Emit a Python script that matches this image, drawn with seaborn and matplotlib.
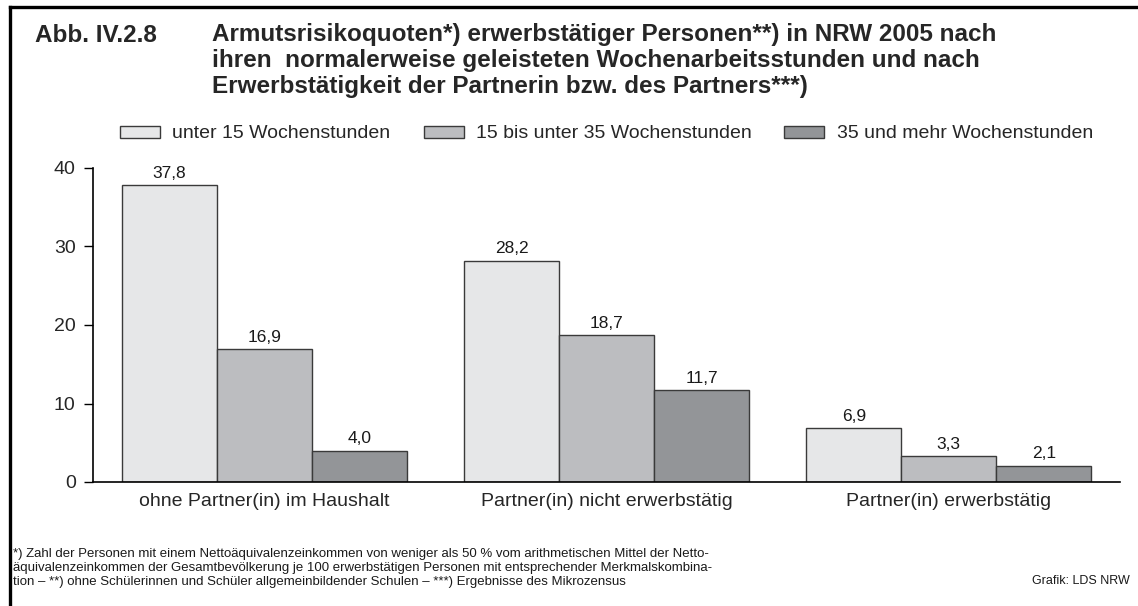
import pandas as pd
import matplotlib.pyplot as plt
import seaborn as sns
from matplotlib.lines import Line2D

# data
gruppen = ["ohne Partner(in) im Haushalt", "Partner(in) nicht erwerbstätig", "Partner(in) erwerbstätig"]
stunden = ["unter 15 Wochenstunden", "15 bis unter 35 Wochenstunden", "35 und mehr Wochenstunden"]
unter_15 = [37.8, 28.2, 6.9]
von_15_bis_35 = [16.9, 18.7, 3.3]
ab_35 = [4.0, 11.7, 2.1]
farben = ["#e6e7e8", "#bcbdc0", "#939598"]

rows = []
for serie, werte in zip(stunden, [unter_15, von_15_bis_35, ab_35]):
    for g, w in zip(gruppen, werte):
        rows.append({"gruppe": g, "stunden": serie, "quote": w})
df = pd.DataFrame(rows)

sns.set_style("ticks")
plt.rcParams['font.family'] = ['Liberation Sans', 'DejaVu Sans']

W, H = 1138, 606
fig = plt.figure(figsize=(W / 100, H / 100), dpi=100)
ax = fig.add_axes([93 / W, 1 - 482 / H, (1120 - 93) / W, (482 - 168) / H])

sns.barplot(data=df, x="gruppe", y="quote", hue="stunden", palette=farben,
            width=0.833, gap=0, saturation=1, edgecolor="#3a3a3a", linewidth=1,
            ax=ax)

for cont in ax.containers:
    ax.bar_label(cont, labels=[f"{b.get_height():.1f}".replace(".", ",") for b in cont],
                 padding=3, fontsize=12.5, color="#1a1a1a")

ax.set_xlim(-0.5, 2.5)
ax.set_ylim(0, 40)
ax.set_yticks([0, 10, 20, 30, 40])
ax.set_xlabel("")
ax.set_ylabel("")
ax.tick_params(axis="y", length=6.5, width=1, pad=6, labelsize=14, color="black")
ax.tick_params(axis="x", length=0, pad=8, labelsize=14)
for s in ["top", "right"]:
    ax.spines[s].set_visible(False)
for s in ["left", "bottom"]:
    ax.spines[s].set_color("black")
    ax.spines[s].set_linewidth(1.2)

sns.move_legend(ax, "center", bbox_to_anchor=(606.5 / W, 1 - 134 / H), bbox_transform=fig.transFigure,
                ncol=3, frameon=False, title=None, fontsize=14,
                handlelength=2.06, handleheight=0.57, handletextpad=0.62, columnspacing=1.7)

# frame lines
fig.add_artist(Line2D([10 / W, 10 / W], [0, 1 - 7 / H], color="black", lw=2.4,
                      transform=fig.transFigure, solid_capstyle="projecting"))
fig.add_artist(Line2D([10 / W, 1], [1 - 7 / H, 1 - 7 / H], color="black", lw=2.4,
                      transform=fig.transFigure, solid_capstyle="projecting"))

# title
fig.text(35 / W, 1 - 41.5 / H, "Abb. IV.2.8", fontsize=17.5, fontweight="bold", va="baseline")
titel = ["Armutsrisikoquoten*) erwerbstätiger Personen**) in NRW 2005 nach",
         "ihren  normalerweise geleisteten Wochenarbeitsstunden und nach",
         "Erwerbstätigkeit der Partnerin bzw. des Partners***)"]
for i, zeile in enumerate(titel):
    fig.text(212 / W, 1 - (41.5 + 26 * i) / H, zeile, fontsize=17.5, fontweight="bold", va="baseline")

# footnotes
fussnoten = ["*) Zahl der Personen mit einem Nettoäquivalenzeinkommen von weniger als 50 % vom arithmetischen Mittel der Netto-",
             "äquivalenzeinkommen der Gesamtbevölkerung je 100 erwerbstätigen Personen mit entsprechender Merkmalskombina-",
             "tion – **) ohne Schülerinnen und Schüler allgemeinbildender Schulen – ***) Ergebnisse des Mikrozensus"]
for i, zeile in enumerate(fussnoten):
    fig.text(13 / W, 1 - (557.5 + 13.5 * i) / H, zeile, fontsize=9.5, va="baseline", color="#1a1a1a")
fig.text(1130 / W, 1 - 584.5 / H, "Grafik: LDS NRW", fontsize=9, va="baseline", ha="right", color="#1a1a1a")

fig.savefig("out.png", dpi=100)
